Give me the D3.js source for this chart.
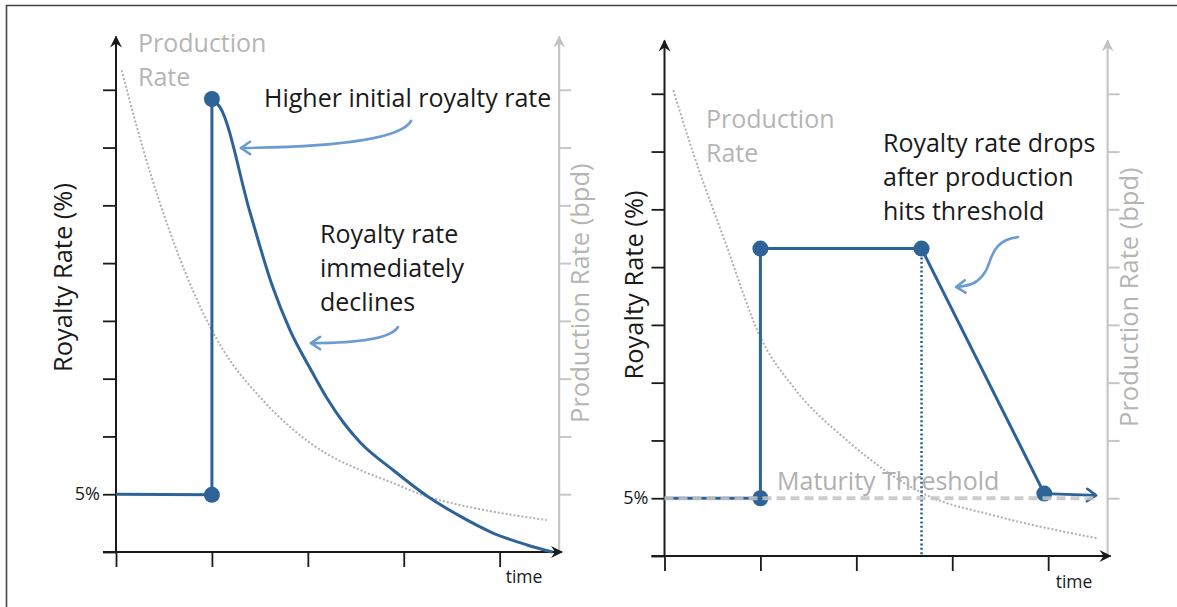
<!DOCTYPE html>
<html>
<head>
<meta charset="utf-8">
<script src="https://cdn.jsdelivr.net/npm/d3@7/dist/d3.min.js"></script>
<style>
  body { margin: 0; background: #fff; }
  svg { display: block; font-family: "Open Sans", Lato, sans-serif; }
</style>
</head>
<body>
<svg id="chart" width="1177" height="607"></svg>
<script>
// shared axis ticks (time is unlabelled, royalty ticks every 5%)
var timeTicks = [0, 1, 2, 3, 4];
var rateTicks = [0, 5, 10, 15, 20, 25, 30, 35, 40];
var prodTicks = [5, 10, 15, 20, 25, 30, 35, 40];

// left panel: royalty jumps high then declines with production
var leftStep = [[0, 5], [1, 4.95], [1, 39.2]];
var leftDecline = [[1, 39.2], [1.084, 38.5], [1.397, 29.4], [1.627, 23.1], [1.814, 19.2], [2.023, 15.9], [2.2, 13.3],
  [2.367, 11.25], [2.544, 9.5], [2.888, 7.1], [3.243, 4.85], [3.587, 3.1], [3.931, 1.64], [4.286, 0.61], [4.55, 0]];
var leftDots = [[1, 39.2], [1, 4.95]];
var leftProduction = [[0.059, 41.7], [0.285, 34.8], [0.633, 26.1], [0.98, 19.5], [1.116, 17.5], [1.502, 13.4], [1.846, 10.6],
  [2.197, 8.5], [2.544, 7.1], [2.888, 5.97], [3.24, 4.8], [3.587, 4.07], [3.931, 3.49], [4.491, 2.77]];

// right panel: flat royalty until production hits the maturity threshold
var rightRoyalty = [[0, 5], [1, 5], [1, 26.6], [2.68, 26.6], [3.96, 5.4]];
var rightTail = [[3.96, 5.4], [4.5, 5.25]];
var rightDots = [[1, 26.6], [2.68, 26.6], [1, 5], [3.96, 5.4]];
var rightProduction = [[0.092, 40.3], [0.3, 34.85], [0.649, 26.8], [0.996, 19.0], [1.34, 14.65], [1.898, 10.04],
  [2.691, 5.43], [3.486, 3.4], [4.517, 1.53]];
var threshold = 5;
var thresholdEnd = 4.52;
var thresholdTime = 2.68;

// callout arrows, in chart units: start point then bezier control triples
var leftArrowHigh = [[3.076, 37.3], [2.961, 35.65], [2.231, 35.05], [1.303, 34.96]];
var leftArrowDecl = [[2.94, 19.47], [2.857, 18.34], [2.44, 18.08], [2.033, 18.08]];
var rightArrowDrop = [[3.686, 27.6], [3.394, 27.34], [3.415, 25.44], [3.342, 24.58], [3.269, 23.62], [3.186, 23.36], [3.04, 23.28]];

var BLUE = '#2e6398', LIGHTBLUE = '#6b9bd0', GREY = '#b5b5b5', INK = '#1a1a1a';
var TXT = 25, TITLE = 25.5;

var svg = d3.select('#chart');

// frame
svg.append('path').attr('d', 'M6.5,607V5.5H1177').attr('fill', 'none').attr('stroke', '#444').attr('stroke-width', 1.6);

var defs = svg.append('defs');
var marker = function(id, col) {
  defs.append('marker').attr('id', id)
    .attr('viewBox', '-12 -7 14 14').attr('refX', 0).attr('refY', 0)
    .attr('markerWidth', 14).attr('markerHeight', 14).attr('markerUnits', 'userSpaceOnUse')
    .attr('orient', 'auto')
    .append('path').attr('d', 'M1,0 L-11,-6 L-7,0 L-11,6 Z').attr('fill', col);
};
marker('arrBlack', INK);
marker('arrGrey', '#c2c2c2');

var chevron = function(g, pts, col, w, len) {
  // open arrow head at the last point, along the last segment
  var a = pts[pts.length - 1], b = pts[pts.length - 2];
  var ang = Math.atan2(a[1] - b[1], a[0] - b[0]);
  var p1 = [a[0] - len * Math.cos(ang - 0.6), a[1] - len * Math.sin(ang - 0.6)];
  var p2 = [a[0] - len * Math.cos(ang + 0.6), a[1] - len * Math.sin(ang + 0.6)];
  g.append('path').attr('d', 'M' + p1 + 'L' + a + 'L' + p2)
    .attr('fill', 'none').attr('stroke', col).attr('stroke-width', w)
    .attr('stroke-linecap', 'round').attr('stroke-linejoin', 'round');
};

var panel = function(o) {
  var x = d3.scaleLinear().domain([0, 4.65]).range([o.x0, o.x0 + 446]);
  var y = d3.scaleLinear().domain([0, 45]).range([o.y0, o.y0 - 520]);
  var g = svg.append('g');
  var gx = x(4.62);

  // grey production axis on the right
  g.append('line').attr('x1', gx).attr('x2', gx).attr('y1', y(0)).attr('y2', y(44.6))
    .attr('stroke', '#c6c6c6').attr('stroke-width', 2.2).attr('marker-end', 'url(#arrGrey)');
  g.append('g').attr('transform', 'translate(' + gx + ',0)')
    .call(d3.axisRight(y).tickValues(prodTicks).tickSize(12).tickFormat(''))
    .call(function(s) { s.select('.domain').remove(); s.selectAll('line').attr('stroke', '#c6c6c6').attr('stroke-width', 2); });

  // royalty axis
  g.append('g').attr('transform', 'translate(' + o.x0 + ',0)')
    .call(d3.axisLeft(y).tickValues(rateTicks).tickSize(13).tickPadding(3)
      .tickFormat(function(d) { return d === 5 ? '5%' : ''; }))
    .call(function(s) {
      s.select('.domain').remove();
      s.selectAll('line').attr('stroke', INK).attr('stroke-width', 1.8);
      s.selectAll('text').attr('fill', INK).style('font-size', '18px').style('font-family', '"Open Sans", sans-serif');
    });
  g.append('line').attr('x1', o.x0).attr('x2', o.x0).attr('y1', y(0)).attr('y2', y(44.6))
    .attr('stroke', INK).attr('stroke-width', 2).attr('marker-end', 'url(#arrBlack)');

  // time axis
  g.append('g').attr('transform', 'translate(0,' + y(0) + ')')
    .call(d3.axisBottom(x).tickValues(timeTicks).tickSize(15).tickFormat(''))
    .call(function(s) { s.select('.domain').remove(); s.selectAll('line').attr('stroke', INK).attr('stroke-width', 1.8); });
  g.append('line').attr('x1', o.x0 - 13).attr('x2', x(4.65)).attr('y1', y(0)).attr('y2', y(0))
    .attr('stroke', INK).attr('stroke-width', 2).attr('marker-end', 'url(#arrBlack)');

  g.append('text').attr('x', x(o.timeAt)).attr('y', y(0) + o.timeDy).attr('text-anchor', 'middle')
    .attr('fill', INK).style('font-size', '17.5px').text('time');

  g.append('text').attr('transform', 'translate(' + (o.x0 + o.titleDx) + ',' + y(o.titleV) + ') rotate(-90)')
    .attr('text-anchor', 'middle').attr('fill', INK).style('font-size', TITLE + 'px').text('Royalty Rate (%)');
  g.append('text').attr('transform', 'translate(' + (gx + o.prodDx) + ',' + y(o.prodV) + ') rotate(-90)')
    .attr('text-anchor', 'middle').attr('fill', GREY).style('font-size', TITLE + 'px').text('Production Rate (bpd)');

  // production curve
  g.append('path').datum(o.production)
    .attr('d', d3.line().curve(d3.curveMonotoneX).x(function(d) { return x(d[0]); }).y(function(d) { return y(d[1]); }))
    .attr('fill', 'none').attr('stroke', '#b0b0b0').attr('stroke-width', 2).attr('stroke-dasharray', '2,2');

  var lab = function(lines, t, v, col, size) {
    var tx = g.append('text').attr('x', x(t)).attr('y', y(v)).attr('fill', col).style('font-size', size + 'px');
    lines.forEach(function(l, i) {
      tx.append('tspan').attr('x', x(t)).attr('dy', i ? 34 : 0).text(l);
    });
  };
  o.labels.forEach(function(l) { lab(l.lines, l.t, l.v, l.col, l.size); });

  o.arrows.forEach(function(a) {
    var p = a.map(function(d) { return [x(d[0]), y(d[1])]; });
    var path = d3.path();
    path.moveTo(p[0][0], p[0][1]);
    for (var i = 1; i + 2 < p.length; i += 3) {
      path.bezierCurveTo(p[i][0], p[i][1], p[i + 1][0], p[i + 1][1], p[i + 2][0], p[i + 2][1]);
    }
    g.append('path').attr('d', path.toString())
      .attr('fill', 'none').attr('stroke', LIGHTBLUE).attr('stroke-width', 2.6).attr('stroke-linecap', 'round');
    chevron(g, p.slice(-2), LIGHTBLUE, 2.6, 11);
  });

  return {x: x, y: y, g: g};
};

var ln = function(p) {
  return d3.line().x(function(d) { return p.x(d[0]); }).y(function(d) { return p.y(d[1]); });
};
var dots = function(p, data) {
  p.g.selectAll('circle.d' + data.length).data(data).enter().append('circle')
    .attr('cx', function(d) { return p.x(d[0]); }).attr('cy', function(d) { return p.y(d[1]); })
    .attr('r', 8).attr('fill', BLUE);
};

// ---- left panel
var L = panel({
  x0: 116, y0: 552, timeAt: 4.254, timeDy: 31, titleDx: -44, titleV: 23.75, prodDx: 30, prodV: 22.4,
  production: leftProduction,
  labels: [
    {lines: ['Production', 'Rate'], t: 0.229, v: 43.27, col: GREY, size: TXT},
    {lines: ['Higher initial royalty rate'], t: 1.543, v: 38.51, col: INK, size: TXT},
    {lines: ['Royalty rate', 'immediately', 'declines'], t: 2.127, v: 26.74, col: INK, size: TXT}
  ],
  arrows: [leftArrowHigh, leftArrowDecl]
});
L.g.append('path').datum(leftStep).attr('d', ln(L)).attr('fill', 'none').attr('stroke', BLUE).attr('stroke-width', 3);
L.g.append('path').datum(leftDecline).attr('d', ln(L).curve(d3.curveMonotoneX))
  .attr('fill', 'none').attr('stroke', BLUE).attr('stroke-width', 3);
dots(L, leftDots);

// ---- right panel
var R = panel({
  x0: 664.5, y0: 556, timeAt: 4.27, timeDy: 32, titleDx: -21.5, titleV: 23.45, prodDx: 30, prodV: 22.4,
  production: rightProduction,
  labels: [
    {lines: ['Production', 'Rate'], t: 0.433, v: 37.04, col: GREY, size: TXT},
    {lines: ['Royalty rate drops', 'after production', 'hits threshold'], t: 2.278, v: 34.96, col: INK, size: TXT},
    {lines: ['Maturity Threshold'], t: 1.173, v: 5.71, col: '#b0b0b0', size: TXT}
  ],
  arrows: [rightArrowDrop]
});
R.g.append('line').attr('x1', R.x(thresholdTime)).attr('x2', R.x(thresholdTime))
  .attr('y1', R.y(26.6)).attr('y2', R.y(0))
  .attr('stroke', BLUE).attr('stroke-width', 2.6).attr('stroke-dasharray', '2,2.4');
R.g.append('path').datum(rightRoyalty).attr('d', ln(R)).attr('fill', 'none').attr('stroke', BLUE).attr('stroke-width', 3);
R.g.append('path').datum(rightTail).attr('d', ln(R)).attr('fill', 'none').attr('stroke', BLUE).attr('stroke-width', 2.6);
chevron(R.g, rightTail.map(function(d) { return [R.x(d[0]), R.y(d[1])]; }), BLUE, 2.6, 11);
dots(R, rightDots);
// maturity threshold drawn over the royalty line
R.g.append('line').attr('x1', R.x(0)).attr('x2', R.x(thresholdEnd))
  .attr('y1', R.y(threshold)).attr('y2', R.y(threshold))
  .attr('stroke', '#c4c4c4').attr('stroke-opacity', 0.85).attr('stroke-width', 4).attr('stroke-dasharray', '9,5');
</script>
</body>
</html>
